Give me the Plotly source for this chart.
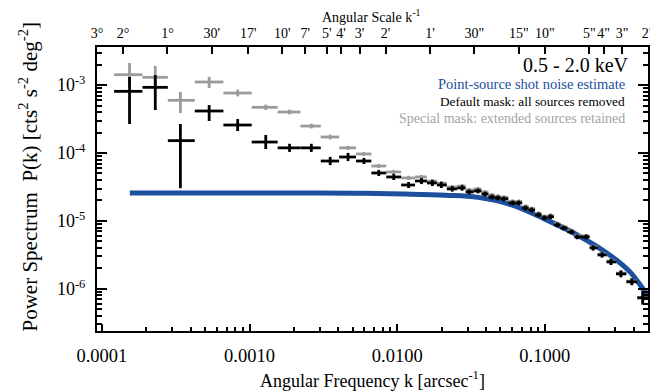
import numpy as np
import plotly.graph_objects as go

# ---------------- data ----------------
k_center = [1.538e-4, 2.298e-4, 3.400e-4, 5.325e-4, 8.306e-4, 1.287e-3, 1.866e-3, 2.621e-3,
            3.517e-3, 4.647e-3, 5.953e-3, 7.506e-3, 9.471e-3, 1.195e-2, 1.461e-2, 1.732e-2,
            1.991e-2, 2.360e-2, 2.754e-2, 3.070e-2, 3.528e-2, 3.933e-2, 4.382e-2, 4.809e-2,
            5.278e-2, 6.065e-2, 6.656e-2, 7.418e-2, 8.137e-2, 9.071e-2, 9.950e-2, 0.1092,
            0.1217, 0.1335, 0.1511, 0.1659, 0.1906, 0.2124, 0.2442, 0.2807, 0.3277, 0.3884, 0.4604]

default_mask = [8.08e-4, 9.25e-4, 1.52e-4, 4.15e-4, 2.58e-4, 1.45e-4, 1.19e-4, 1.19e-4,
                7.62e-5, 8.73e-5, 7.62e-5, 5.08e-5, 4.44e-5, 3.38e-5, 3.87e-5, 3.62e-5,
                3.38e-5, 2.96e-5, 3.06e-5, 2.67e-5, 2.76e-5, 2.49e-5, 2.25e-5, 2.18e-5,
                2.11e-5, 1.84e-5, 1.84e-5, 1.55e-5, 1.45e-5, 1.23e-5, 1.11e-5, 1.15e-5,
                8.73e-6, 7.88e-6, 6.89e-6, 5.82e-6, 5.82e-6, 4.01e-6, 3.16e-6, 2.49e-6,
                1.66e-6, 1.27e-6, 7.38e-7]
default_err_up_dex = [0.211, 0.181, 0.245, 0.088, 0.088, 0.103, 0.06, 0.06, 0.06, 0.06,
                      0.045, 0.045, 0.045, 0.045, 0.045, 0.045, 0.045, 0.04, 0.04, 0.035,
                      0.035, 0.035, 0.035, 0.035, 0.035, 0.035, 0.035, 0.035, 0.035, 0.035,
                      0.035, 0.035, 0.035, 0.035, 0.035, 0.035, 0.035, 0.04, 0.04, 0.045,
                      0.05, 0.05, 0.1]
default_err_dn_dex = [0.481, 0.334, 0.700, 0.147, 0.088, 0.103, 0.06, 0.06, 0.06, 0.06,
                      0.045, 0.045, 0.045, 0.045, 0.045, 0.045, 0.045, 0.04, 0.04, 0.035,
                      0.035, 0.035, 0.035, 0.035, 0.035, 0.035, 0.035, 0.035, 0.035, 0.035,
                      0.035, 0.035, 0.035, 0.035, 0.035, 0.035, 0.035, 0.04, 0.04, 0.045,
                      0.05, 0.05, 0.1]

special_mask = [1.42e-3, 1.30e-3, 5.96e-4, 1.11e-3, 7.63e-4, 4.70e-4, 4.01e-4, 2.49e-4,
                1.72e-4, 1.19e-4, 9.67e-5, 6.44e-5, 5.26e-5, 4.29e-5, 4.44e-5, 3.85e-5,
                3.60e-5, 3.15e-5, 3.25e-5, 2.85e-5, 2.95e-5, 2.65e-5, 2.40e-5, 2.30e-5,
                2.22e-5, 1.94e-5, 1.93e-5, 1.63e-5, 1.52e-5, 1.29e-5, 1.16e-5, 1.20e-5,
                9.1e-6, 8.2e-6, 7.2e-6, 6.05e-6, 6.0e-6, 4.15e-6, 3.26e-6, 2.56e-6,
                1.71e-6, 1.30e-6, 7.5e-7]
special_err_up_dex = [0.173, 0.166, 0.122, 0.074, 0.05, 0.04, 0.035, 0.035, 0.035, 0.03,
                      0.03, 0.03, 0.03, 0.03, 0.03, 0.03, 0.03, 0.03, 0.03, 0.03,
                      0.03, 0.03, 0.03, 0.03, 0.03, 0.03, 0.03, 0.03, 0.03, 0.03,
                      0.03, 0.03, 0.03, 0.03, 0.03, 0.03, 0.03, 0.035, 0.035, 0.04,
                      0.045, 0.045, 0.09]
special_err_dn_dex = [0.166, 0.113, 0.187, 0.088, 0.05, 0.04, 0.035, 0.035, 0.035, 0.03,
                      0.03, 0.03, 0.03, 0.03, 0.03, 0.03, 0.03, 0.03, 0.03, 0.03,
                      0.03, 0.03, 0.03, 0.03, 0.03, 0.03, 0.03, 0.03, 0.03, 0.03,
                      0.03, 0.03, 0.03, 0.03, 0.03, 0.03, 0.03, 0.035, 0.035, 0.04,
                      0.045, 0.045, 0.09]

shot_k = [1.545e-4, 1.0e-3, 3.0e-3, 6.0e-3, 1.14e-2, 2.12e-2, 3.53e-2, 5.97e-2, 9.95e-2,
          0.166, 0.281, 0.383, 0.468, 0.498]
shot_p = [2.58e-5, 2.58e-5, 2.57e-5, 2.55e-5, 2.49e-5, 2.39e-5, 2.22e-5, 1.72e-5, 1.07e-5,
          6.22e-6, 3.05e-6, 1.72e-6, 9.66e-7, 8.2e-7]

x_ticks = [1e-4, 1e-3, 1e-2, 1e-1]
x_ticktext = ["0.0001", "0.0010", "0.0100", "0.1000"]
y_ticks = [1e-3, 1e-4, 1e-5, 1e-6]
y_ticktext = ["10<sup>-3</sup>", "10<sup>-4</sup>", "10<sup>-5</sup>", "10<sup>-6</sup>"]

# angular scales (arcsec) for the top axis
scale_arcsec = [10800, 7200, 3600, 1800, 1020, 600, 420, 300, 240, 180, 120, 60, 30, 15, 10, 5, 4, 3, 2]
scale_labels = ["3°", "2°", "1°", "30'", "17'", "10'", "7'", "5'", "4'", "3'", "2'", "1'",
                '30"', '15"', '10"', '5"', '4"', '3"', '2"']

# ---------------- derived ----------------
kc = np.array(k_center)
lk = np.log10(kc)
mid = (lk[1:] + lk[:-1]) / 2
lo_edge = np.concatenate([[lk[0] - 1.2 * (mid[0] - lk[0])], mid])
hi_edge = np.concatenate([mid, [lk[-1] + (lk[-1] - mid[-1])]])
ex_minus = kc - 10 ** lo_edge
ex_plus = 10 ** hi_edge - kc

def yerr(vals, up, dn):
    v = np.array(vals)
    return v * (10 ** np.array(up) - 1), v * (1 - 10 ** (-np.array(dn)))

d_up, d_dn = yerr(default_mask, default_err_up_dex, default_err_dn_dex)
s_up, s_dn = yerr(special_mask, special_err_up_dex, special_err_dn_dex)

FONT = "Liberation Serif, Times New Roman, serif"
BLUE = "#1c4f9e"
GRAY = "#9b9b9b"

fig = go.Figure()

fig.add_trace(go.Scatter(x=shot_k, y=shot_p, mode="lines", line=dict(color=BLUE, width=5, shape="spline"),
                         showlegend=False, hoverinfo="skip"))

def cross(y, up, dn, color, th):
    return go.Scatter(
        x=k_center, y=y, mode="markers", marker=dict(size=1, color=color, opacity=0),
        error_x=dict(type="data", symmetric=False, array=ex_plus, arrayminus=ex_minus,
                     color=color, thickness=th, width=0),
        error_y=dict(type="data", symmetric=False, array=up, arrayminus=dn,
                     color=color, thickness=th, width=0),
        showlegend=False)

fig.add_trace(cross(special_mask, s_up, s_dn, GRAY, 2.8))
fig.add_trace(cross(default_mask, d_up, d_dn, "black", 2.8))

# invisible trace on top axis
fig.add_trace(go.Scatter(x=[1e-4], y=[1e-5], xaxis="x2", mode="markers",
                         marker=dict(opacity=0), showlegend=False, hoverinfo="skip"))

xr = [np.log10(1 / 10800), np.log10(1 / 2)]
minor_x = [d * 10 ** e for e in range(-5, 1) for d in range(2, 10)]
minor_y = [d * 10 ** e for e in range(-7, -1) for d in range(2, 10)]

fig.update_layout(
    width=658, height=391,
    margin=dict(l=89, r=14, t=39, b=68),
    paper_bgcolor="white", plot_bgcolor="white",
    font=dict(family=FONT, color="black"),
    xaxis=dict(type="log", range=xr, showgrid=False, zeroline=False,
               showline=True, linecolor="black", linewidth=2, mirror=True,
               tickmode="array", tickvals=x_ticks, ticktext=x_ticktext, tickangle=0,
               ticks="inside", ticklen=7, tickwidth=1.5, tickcolor="black",
               tickfont=dict(size=18.5, family=FONT), ticklabelstandoff=7,
               minor=dict(tickmode="array", tickvals=minor_x, ticks="inside",
                          ticklen=4, tickwidth=1.5, tickcolor="black", showgrid=False)),
    xaxis2=dict(type="log", range=xr, overlaying="x", side="top", anchor="y",
                showgrid=False, zeroline=False, showline=False, tickangle=0,
                tickmode="array", tickvals=[1 / a for a in scale_arcsec], ticktext=scale_labels,
                ticks="inside", ticklen=7, tickwidth=1.5, tickcolor="black",
                tickfont=dict(size=14, family=FONT), ticklabelstandoff=5),
    yaxis=dict(type="log", range=[-6.62, -2.44], showgrid=False, zeroline=False,
               showline=True, linecolor="black", linewidth=2, mirror="ticks",
               tickmode="array", tickvals=y_ticks, ticktext=y_ticktext,
               ticks="inside", ticklen=10, tickwidth=1.5, tickcolor="black",
               tickfont=dict(size=18, family=FONT), ticklabelstandoff=6,
               minor=dict(tickmode="array", tickvals=minor_y, ticks="inside",
                          ticklen=5, tickwidth=1.5, tickcolor="black", showgrid=False)),
)

def px_x(px):
    return (px - 89) / 555

def px_y(py):
    return (323 - py) / 284

ann = [
    dict(text="Angular Scale k<sup>-1</sup>", x=px_x(365), y=px_y(8), size=14, color="black", xa="center"),
    dict(text="Angular Frequency k [arcsec<sup>-1</sup>]", x=px_x(366), y=px_y(371), size=18, color="black", xa="center"),
    dict(text="0.5 - 2.0 keV", x=px_x(627), y=px_y(57), size=20, color="black", xa="right"),
    dict(text="Point-source shot noise estimate", x=px_x(623), y=px_y(76), size=14.5, color=BLUE, xa="right"),
    dict(text="Default mask: all sources removed", x=px_x(623), y=px_y(93), size=13.3, color="black", xa="right"),
    dict(text="Special mask: extended sources retained", x=px_x(623), y=px_y(110), size=14, color="#a3a3a3", xa="right"),
]
for a in ann:
    fig.add_annotation(text=a["text"], x=a["x"], y=a["y"], xref="paper", yref="paper",
                       xanchor=a["xa"], yanchor="middle", showarrow=False,
                       font=dict(size=a["size"], color=a["color"], family=FONT))

fig.add_annotation(text="Power Spectrum  P(k) [cts<sup>2</sup> s<sup>-2</sup> deg<sup>-2</sup>]",
                   x=px_x(20), y=px_y(168), xref="paper", yref="paper", textangle=-90,
                   xanchor="center", yanchor="middle", showarrow=False,
                   font=dict(size=21, family=FONT, color="black"))

fig.write_html("out.html")
